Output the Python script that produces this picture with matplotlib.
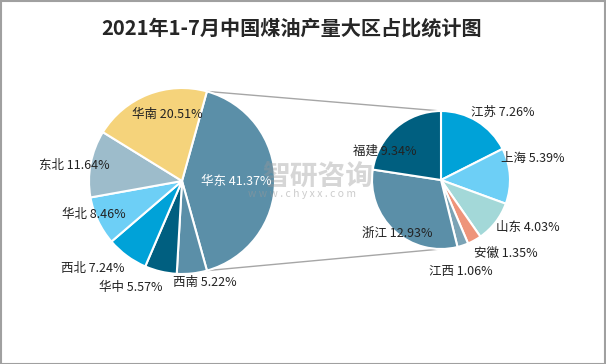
import numpy as np
import matplotlib.pyplot as plt

plt.rcParams['font.family'] = ['Noto Sans CJK SC', 'DejaVu Sans']

# data
regions = ['华东', '西南', '华中', '西北', '华北', '东北', '华南']
region_pct = [41.37, 5.22, 5.57, 7.24, 8.46, 11.64, 20.51]
provinces = ['江苏', '上海', '山东', '安徽', '江西', '浙江', '福建']
province_pct = [7.26, 5.39, 4.03, 1.35, 1.06, 12.93, 9.34]

region_colors = ['#5b8fa8', '#5b8fa8', '#005f80', '#00a2d8', '#6dcff6', '#9dbccb', '#f5d37b']
province_colors = ['#00a2d8', '#6dcff6', '#a3d8d8', '#ee947a', '#7ba3b5', '#5b8fa8', '#005f80']

# label placement: distance (in radii) and angle shift (deg) from wedge middle
region_lab_r = [0.58, 1.12, 1.27, 1.35, 1.02, 1.17, 0.73]
region_lab_da = [0, 6.6, -12.2, -9.3, -4.5, 2.4, -8.6]
province_lab_r = [1.33, 1.37, 1.43, 1.42, 1.36, 1.0, 0.91]
province_lab_da = [-10.8, 9.5, 9.2, 12.8, -6.2, 2.7, 22]

W, H = 606, 364
fig = plt.figure(figsize=(W / 100, H / 100), dpi=100)
ax = fig.add_axes([0, 0, 1, 1])

c1, r1 = (182, 183), 93
c2, r2 = (441, 184), 69

start1 = 360 * region_pct[0] / 100 / 2
w1, _ = ax.pie(region_pct, colors=region_colors, center=c1, radius=r1,
               startangle=start1, counterclock=False, frame=True,
               wedgeprops=dict(edgecolor='white', linewidth=1.5))
w2, _ = ax.pie(province_pct, colors=province_colors, center=c2, radius=r2,
               startangle=90, counterclock=False, frame=True,
               wedgeprops=dict(edgecolor='white', linewidth=1.5))
ax.set_xlim(0, W)
ax.set_ylim(0, H)
ax.axis('off')


def put_labels(wedges, names, pcts, lab_r, lab_da, center, radius, first_white=False):
    for i, (wd, n, p) in enumerate(zip(wedges, names, pcts)):
        mid = np.deg2rad((wd.theta1 + wd.theta2) / 2 + lab_da[i])
        x = center[0] + lab_r[i] * radius * np.cos(mid)
        y = center[1] + lab_r[i] * radius * np.sin(mid)
        col = 'white' if (first_white and i == 0) else '#222222'
        ax.text(x, y, f'{n} {p:.2f}%', ha='center', va='center',
                fontsize=9, color=col, zorder=5)


put_labels(w1, regions, region_pct, region_lab_r, region_lab_da, c1, r1, first_white=True)
put_labels(w2, provinces, province_pct, province_lab_r, province_lab_da, c2, r2)

# connector lines from split wedge to second pie
big = w1[0]
for ang, yend in [(big.theta2, c2[1] + r2), (big.theta1, c2[1] - r2)]:
    a = np.deg2rad(ang)
    ax.plot([c1[0] + r1 * np.cos(a), c2[0]], [c1[1] + r1 * np.sin(a), yend],
            color='#a6a6a6', lw=1, zorder=0)

# watermark
ax.text(318, H - 177, '智研咨询', fontsize=20, color='#999999', alpha=0.4,
        ha='center', va='center', fontweight='bold', zorder=4)
ax.text(302, H - 194, 'w w w . c h y x x . c o m', fontsize=7.5, color='#999999',
        alpha=0.5, ha='center', va='center', zorder=4)

fig.text(292 / W, 1 - 28 / H, '2021年1-7月中国煤油产量大区占比统计图',
         ha='center', va='center', fontsize=14.5, fontweight='bold', color='#262626')

fig.patches.append(plt.Rectangle((0.5 / W, 0.5 / H), 1 - 1.5 / W, 1 - 1.5 / H,
                                 transform=fig.transFigure, fill=False,
                                 edgecolor='#a0a0a0', lw=1.5))

fig.savefig('out.png', dpi=100)
